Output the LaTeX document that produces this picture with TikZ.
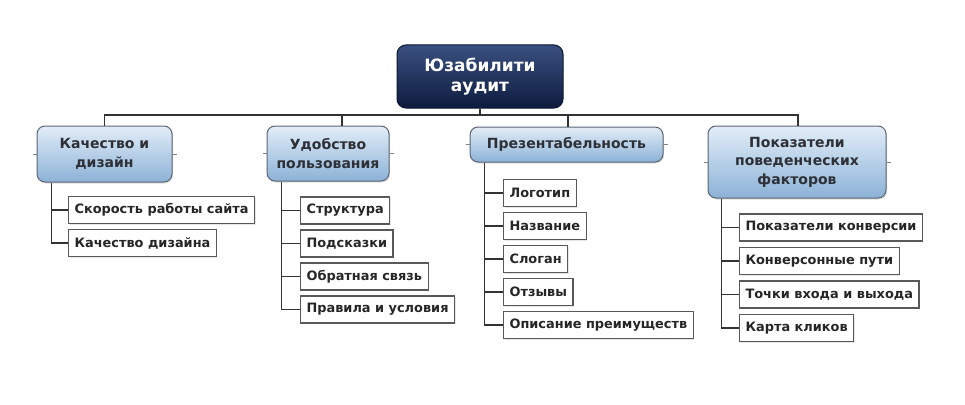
\documentclass[tikz,border=0pt]{standalone}
\usepackage{fontspec}
\setmainfont{DejaVu Sans}
\usepackage{tikz}
\usetikzlibrary{shadows}

\definecolor{navytop}{RGB}{58,80,128}
\definecolor{navybot}{RGB}{14,27,62}
\definecolor{skytop}{RGB}{226,237,248}
\definecolor{skybot}{RGB}{140,178,215}
\definecolor{edgegray}{RGB}{90,100,115}
\definecolor{inkgray}{RGB}{45,48,54}

\tikzset{
  rootbox/.style={draw=navybot!80!black, line width=1pt, rounded corners=9pt, top color=navytop, bottom color=navybot,
    text=white, font=\bfseries\fontsize{17}{20}\selectfont, align=center},
  groupbox/.style={draw=edgegray, line width=1pt, rounded corners=8pt, top color=skytop, bottom color=skybot,
    drop shadow={shadow xshift=1pt, shadow yshift=-1.5pt, opacity=0.25},
    text=inkgray, font=\bfseries\fontsize{14}{18.5}\selectfont, align=center},
  leaf/.style={draw=gray!70!black, line width=1.1pt, fill=white, anchor=west, minimum height=27pt,
    drop shadow={shadow xshift=1pt, shadow yshift=-1pt, opacity=0.2},
    inner xsep=6pt, text=black!85, font=\bfseries\fontsize{12.9}{15}\selectfont},
  wire/.style={draw=black!80, line width=1.1pt},
  stub/.style={draw=gray, line width=0.8pt}
}

\begin{document}
\begin{tikzpicture}[x=1pt, y=-1pt]
  \useasboundingbox (0,0) rectangle (965,404);
  \node[rootbox, minimum width=166pt, minimum height=63pt] (root) at (480,76.5) {Юзабилити\\аудит};
  \node[groupbox, minimum width=135pt, minimum height=56pt] (c1) at (104.5,154) {Качество и\\дизайн};
  \node[groupbox, minimum width=122pt, minimum height=55pt] (c2) at (328,153.5) {Удобство\\пользования};
  \node[groupbox, minimum width=193pt, minimum height=35pt] (c3) at (566.5,144.5) {Презентабельность};
  \node[groupbox, minimum width=178pt, minimum height=72pt] (c4) at (797,162) {Показатели\\поведенческих\\факторов};
  % bus from the top box to the four groups
  \coordinate (b) at (480,115);
  \draw[wire, line width=1.8pt] (root.south) -- (b);
  \draw[wire, line width=1.8pt] (c1.north) |- (b) -| ([xshift=1pt]c4.north);
  \draw[wire] ([xshift=14pt]c2.north) -- ([xshift=14pt]c2.north |- b);
  \draw[wire] ([xshift=1.5pt]c3.north) -- ([xshift=1.5pt]c3.north |- b);
  \foreach \c in {c1,c2,c3,c4} { \draw[stub] (\c.west) -- ++(-4,0); \draw[stub] (\c.east) -- ++(4,0); }
  % leaves
  \foreach \t [count=\i] in {Скорость работы сайта, Качество дизайна} {
    \node[leaf] (a\i) at (68,{210+33*(\i-1)}) {\t};
    \draw[wire] ([xshift=15pt]c1.south west) |- (a\i.west);
  }
  \foreach \t [count=\i] in {Структура, Подсказки, Обратная связь, Правила и условия} {
    \node[leaf] (u\i) at (300,{210.5+33*(\i-1)}) {\t};
    \draw[wire] ([xshift=15pt]c2.south west) |- (u\i.west);
  }
  \foreach \t [count=\i] in {Логотип, Название, Слоган, Отзывы, Описание преимуществ} {
    \node[leaf] (p\i) at (503,{193+33*(\i-1)}) {\t};
    \draw[wire] ([xshift=15pt]c3.south west) |- (p\i.west);
  }
  \foreach \t [count=\i] in {Показатели конверсии, Конверсонные пути, Точки входа и выхода, Карта кликов} {
    \node[leaf] (f\i) at (739,{227.5+33.5*(\i-1)}) {\t};
    \draw[wire] ([xshift=14pt]c4.south west) |- (f\i.west);
  }
\end{tikzpicture}
\end{document}
